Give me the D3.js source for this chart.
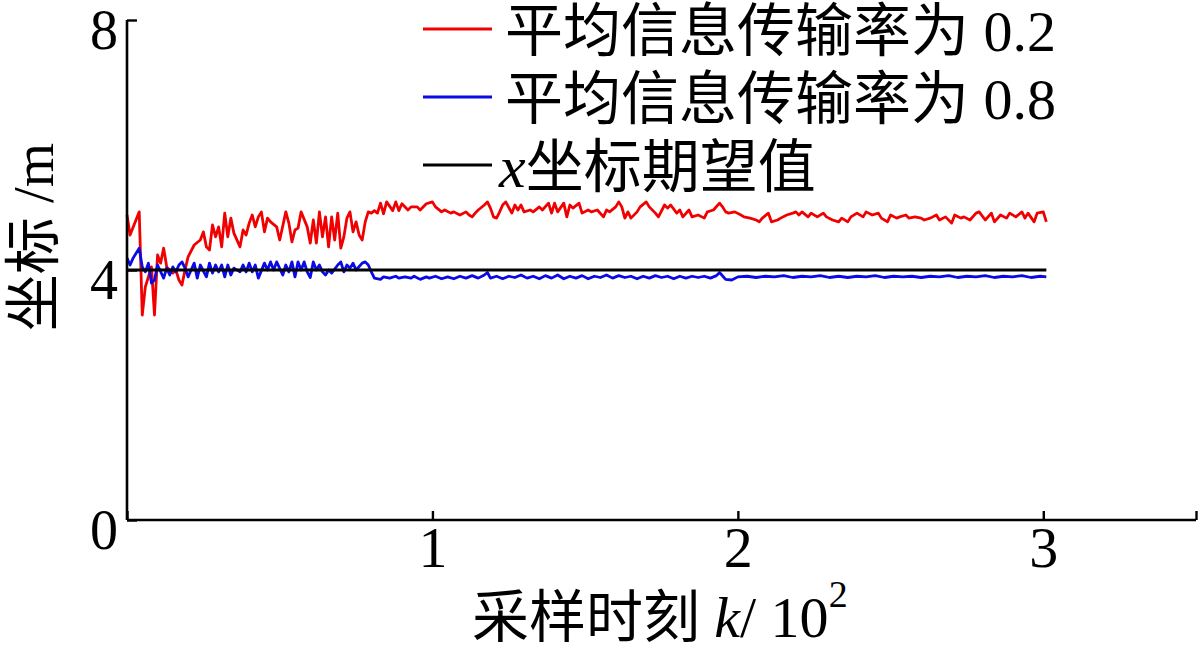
<!DOCTYPE html>
<html>
<head>
<meta charset="utf-8">
<script src="https://cdn.jsdelivr.net/npm/d3@7/dist/d3.min.js"></script>
<style>
    body { margin: 0; background: #fff; }
    text { font-family: "Liberation Serif", "Noto Sans CJK SC", serif; fill: #000; }
</style>
</head>
<body>
<svg id="chart" width="1200" height="652"></svg>
<script>
// x tick values (in units of 10^2 samples), y tick values
var xTickValues = [0, 1, 2, 3, 3.5];
var xTickLabels = ["", "1", "2", "3", ""];
var yTickValues = [0, 4, 8];

var legendLabels = ["平均信息传输率为 0.2", "平均信息传输率为 0.8", "坐标期望值"];
var seriesColors = ["#f00000", "#0a0ae6", "#000000"];

// [sample k, coordinate]
var redSeries = [[0,4.88],[1,4.56],[4,4.93],[5,3.28],[6,3.73],[8,4.05],[9,3.28],[10,4.24],[11,4.11],[12,4.35],
    [13,4.05],[15,3.95],[16,4.0],[17,3.84],[18,3.76],[19,4.0],[20,4.21],[22,4.4],[24,4.48],[25,4.61],[26,4.37],
    [27,4.32],[28,4.72],[29,4.53],[30,4.69],[31,4.37],[32,4.91],[33,4.53],[34,4.83],[35,4.59],[37,4.37],[38,4.64],
    [39,4.56],[40,4.75],[41,4.88],[42,4.69],[43,4.85],[44,4.93],[45,4.61],[46,4.83],[47,4.77],[49,4.69],[50,4.48],
    [52,4.93],[53,4.75],[54,4.45],[55,4.64],[56,4.67],[57,4.93],[59,4.69],[60,4.43],[61,4.8],[62,4.43],[63,4.93],
    [64,4.53],[65,4.85],[66,4.37],[67,4.85],[68,4.48],[69,4.91],[70,4.35],[71,4.53],[72,4.83],[73,4.93],[74,4.61],
    [75,4.77],[76,4.56],[77,4.48],[78,4.77],[79,4.93],[80,4.91],[81,4.95],[82,4.91],[83,5.07],[84,4.9],[85,5.09],
    [87,4.95],[88,5.09],[89,4.95],[90,5.06],[92,4.96],[93,5.01],[95,5.01],[96,4.96],[98,5.06],[100,5.09],[101,5.01],
    [103,4.93],[104,4.96],[106,4.91],[107,4.93],[109,4.88],[111,4.93],[112,4.88],[113,4.85],[114,4.91],[115,4.96],
    [117,5.04],[118,5.09],[119,4.99],[120,4.85],[121,4.83],[122,4.93],[123,5.04],[124,5.09],[126,4.91],[127,5.04],
    [128,4.96],[129,5.04],[130,4.93],[132,4.96],[133,4.93],[135,5.01],[136,4.96],[138,5.07],[139,4.91],[140,5.07],
    [141,4.93],[143,5.07],[144,4.85],[145,5.04],[146,4.99],[148,5.07],[149,4.91],[151,4.96],[152,4.93],[154,4.96],
    [156,4.85],[157,4.96],[158,4.93],[160,5.01],[161,5.09],[162,5.01],[163,4.83],[164,4.93],[165,4.83],[167,4.93],
    [168,5.01],[170,5.09],[171,5.01],[173,4.91],[174,4.85],[176,5.04],[177,4.99],[178,5.04],[180,4.91],[181,4.96],
    [182,4.85],[184,4.96],[185,4.85],[187,4.88],[189,4.83],[190,4.93],[192,4.96],[194,5.07],[195,5.01],[196,4.93],
    [197,4.91],[199,4.93],[201,4.88],[202,4.85],[204,4.83],[206,4.8],[207,4.77],[208,4.83],[210,4.91],[211,4.77],
    [213,4.8],[214,4.83],[216,4.88],[218,4.91],[219,4.93],[220,4.88],[221,4.93],[223,4.85],[224,4.91],[226,4.85],
    [228,4.91],[229,4.85],[231,4.8],[233,4.77],[234,4.83],[236,4.77],[237,4.85],[239,4.91],[241,4.85],[242,4.93],
    [244,4.88],[246,4.91],[247,4.83],[249,4.77],[250,4.88],[252,4.83],[253,4.85],[255,4.88],[256,4.83],[258,4.85],
    [260,4.83],[261,4.8],[263,4.83],[265,4.88],[266,4.8],[268,4.85],[270,4.75],[271,4.88],[273,4.83],[274,4.85],
    [276,4.8],[278,4.91],[279,4.93],[281,4.8],[283,4.91],[284,4.77],[286,4.88],[288,4.83],[289,4.91],[291,4.85],
    [293,4.93],[294,4.83],[295,4.91],[297,4.77],[298,4.91],[300,4.93],[301,4.77]];

var blueSeries = [[0,4.19],[1,4.08],[2,4.19],[4,4.35],[5,4.05],[6,3.97],[7,4.11],[8,3.79],[9,3.84],[10,4.08],
    [12,3.87],[13,4.03],[14,3.92],[15,4.05],[16,3.97],[17,4.08],[18,4.13],[19,4.03],[20,3.89],[21,4.0],[22,4.11],
    [23,3.87],[24,4.08],[26,3.89],[27,4.11],[28,3.95],[29,4.08],[30,3.97],[31,4.08],[32,3.89],[33,4.08],[34,3.92],
    [35,4.03],[37,3.97],[38,4.08],[39,3.97],[40,4.11],[41,3.97],[42,4.08],[43,3.87],[45,4.11],[46,4.0],[47,4.13],
    [48,4.0],[49,4.13],[51,3.92],[52,4.08],[53,3.97],[54,4.13],[55,3.89],[56,4.13],[57,4.0],[58,4.13],[59,3.97],
    [60,3.88],[61,4.13],[62,4.0],[63,4.08],[64,3.97],[65,3.92],[66,4.0],[67,3.95],[69,4.08],[70,4.13],[71,3.97],
    [72,4.08],[73,4.03],[74,4.11],[75,4.0],[77,4.11],[78,4.13],[79,4.08],[80,3.97],[81,3.87],[83,3.85],[84,3.89],
    [86,3.87],[88,3.9],[89,3.87],[91,3.89],[93,3.87],[94,3.9],[96,3.85],[98,3.89],[99,3.87],[101,3.9],[103,3.86],
    [105,3.89],[107,3.86],[109,3.9],[111,3.87],[113,3.91],[115,3.87],[117,3.92],[118,3.96],[119,3.87],[121,3.9],
    [123,3.86],[125,3.9],[127,3.88],[129,3.92],[131,3.87],[133,3.9],[135,3.86],[137,3.91],[139,3.87],[141,3.92],
    [143,3.86],[145,3.9],[147,3.87],[149,3.91],[151,3.86],[153,3.9],[155,3.88],[157,3.92],[159,3.87],[161,3.91],
    [163,3.88],[165,3.9],[167,3.86],[169,3.9],[171,3.87],[173,3.91],[175,3.88],[177,3.9],[179,3.86],[181,3.9],
    [183,3.87],[185,3.9],[187,3.88],[189,3.9],[191,3.87],[193,3.91],[194,3.96],[196,3.85],[198,3.84],[200,3.89],
    [203,3.9],[206,3.88],[209,3.9],[212,3.89],[215,3.91],[218,3.88],[221,3.9],[224,3.89],[227,3.91],[230,3.88],
    [233,3.9],[236,3.88],[239,3.9],[242,3.89],[245,3.91],[248,3.88],[251,3.9],[254,3.89],[257,3.9],[260,3.88],
    [263,3.9],[266,3.89],[269,3.91],[272,3.88],[275,3.9],[278,3.89],[281,3.91],[284,3.88],[287,3.9],[290,3.89],
    [293,3.91],[296,3.88],[299,3.9],[301,3.89]];

// expected x coordinate
var expectSeries = [[0,4],[301,4]];

var svg = d3.select("#chart");

var x = d3.scaleLinear().domain([0, 3.5]).range([127, 1196]);
var y = d3.scaleLinear().domain([0, 8]).range([520, 20]);

var line = d3.line()
    .x(function(d) { return x(d[0] / 100); })
    .y(function(d) { return y(d[1]); });

// series first, axes drawn on top
[redSeries, blueSeries, expectSeries].forEach(function(s, i) {
    svg.append("path")
        .datum(s)
        .attr("fill", "none")
        .attr("stroke", seriesColors[i])
        .attr("stroke-width", 2.8)
        .attr("stroke-linejoin", "round")
        .attr("d", line);
});

// ticks point inwards, so use negative tick size
var xAxis = d3.axisBottom(x)
    .tickValues(xTickValues)
    .tickSize(-9)
    .tickPadding(6)
    .tickFormat(function(d, i) { return xTickLabels[i]; });
var yAxis = d3.axisLeft(y)
    .tickValues(yTickValues)
    .tickSize(-10)
    .tickPadding(9)
    .tickFormat(d3.format("d"));

var gx = svg.append("g")
    .attr("transform", "translate(0," + y(0) + ")")
    .call(xAxis);
var gy = svg.append("g")
    .attr("transform", "translate(" + x(0) + ",0)")
    .call(yAxis);

[gx, gy].forEach(function(g) {
    g.select(".domain").attr("stroke", "#000").attr("stroke-width", 2.6)
        .attr("d", g === gx ? "M" + x(0) + ",0H" + x(3.5) : "M0," + y(0) + "V" + y(8));
    g.selectAll(".tick line").attr("stroke", "#000").attr("stroke-width", 2.4);
    g.selectAll(".tick text").attr("font-size", 58).attr("font-family", "Liberation Serif");
});
gx.selectAll(".tick text").attr("dy", "0.71em");
gy.selectAll(".tick text").attr("font-size", 56).attr("dy", "0.5em");

// axis titles
var xTitle = svg.append("text")
    .attr("x", 472)
    .attr("y", 637)
    .attr("font-size", 57);
xTitle.append("tspan").text("采样时刻 ");
xTitle.append("tspan").attr("font-style", "italic").attr("font-size", 58).text("k");
xTitle.append("tspan").attr("font-size", 58).text("/ 10");
xTitle.append("tspan").attr("font-size", 38).attr("dy", -30).text("2");

svg.append("text")
    .attr("transform", "translate(53,237) rotate(-90)")
    .attr("text-anchor", "middle")
    .attr("font-size", 57)
    .text("坐标 /m");

// legend
var legendRows = [51, 119, 187];
legendLabels.forEach(function(label, i) {
    var cy = legendRows[i] - 22;
    svg.append("line")
        .attr("x1", 423).attr("x2", 492)
        .attr("y1", cy).attr("y2", cy)
        .attr("stroke", seriesColors[i])
        .attr("stroke-width", 2.8);
    var t = svg.append("text")
        .attr("x", i === 2 ? 499 : 505)
        .attr("y", legendRows[i])
        .attr("font-size", 58);
    if (i === 2) {
        t.append("tspan").attr("font-style", "italic").attr("font-size", 60).text("x");
    }
    t.append("tspan").text(label);
});
</script>
</body>
</html>
